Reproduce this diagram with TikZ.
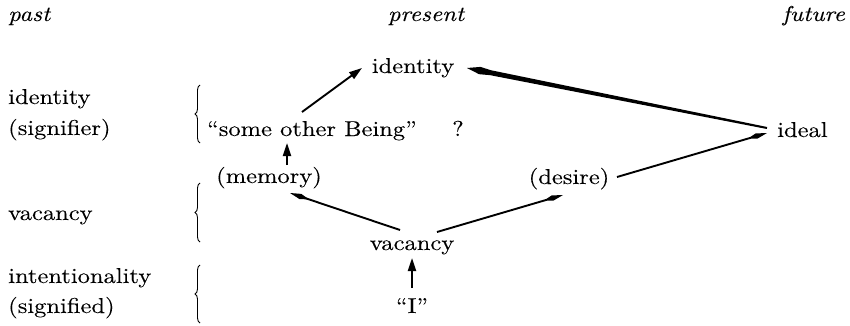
\documentclass[tikz,border=0pt]{standalone}
\usepackage{fontspec}
\setmainfont{lmroman10-regular}[Extension=.otf, ItalicFont=lmroman10-italic, BoldFont=lmroman10-bold, FakeStretch=1.14, FakeBold=0.15]
\usetikzlibrary{arrows.meta,calc,decorations.pathreplacing}
\begin{document}
\begin{tikzpicture}[x=1pt,y=-1pt,
  lbl/.style={inner sep=0pt, font=\fontsize{21.5}{26}\selectfont},
  hdr/.style={inner sep=0pt, font=\fontsize{21.5}{26}\selectfont\itshape},
  ln/.style={line width=1.9pt},
  arr/.style={ln, -{Triangle[length=13pt,width=8pt]}},
  spear/.style={ln, -{Kite[length=20pt,width=5.5pt,inset=9pt]}},
  brc/.style={decorate, decoration={brace, amplitude=5pt}, line width=0.9pt}]
\useasboundingbox (0,0) rectangle (850,326);
% headers
\node[hdr, anchor=base west] (past) at (8,21) {past};
\node[hdr, anchor=base] (present) at (426,21) {present};
\node[hdr, anchor=base east] (future) at (845,21) {future};
% left labels
\node[lbl, anchor=base west] (lid) at (8,104) {identity};
\node[lbl, anchor=base west] (lsig) at (8,135) {(signifier)};
\node[lbl, anchor=base west] (lvac) at (8,220) {vacancy};
\node[lbl, anchor=base west] (lint) at (8,283) {intentionality};
\node[lbl, anchor=base west] (lsd) at (8,313) {(signified)};
% braces
\draw[brc] (200,143) -- (200,85);
\draw[brc] (200,242) -- (200,183);
\draw[brc] (200,323) -- (200,265);
% diagram nodes
\node[lbl, anchor=base west] (being) at (207,136) {``some other Being''};
\node[lbl, anchor=base] (q) at (458,136) {?};
\node[lbl, anchor=base] (idt) at (413,73) {identity};
\node[lbl, anchor=base west] (ideal) at (777,137) {ideal};
\node[lbl, anchor=base] (des) at (569,184) {(desire)};
\node[lbl, anchor=base] (mem) at (269,183) {(memory)};
\node[lbl, anchor=base] (vac) at (412,250) {vacancy};
\node[lbl, anchor=base] (ich) at (412,313) {``I''};
% connectors
\draw[arr] ([shift={(18,-18)}]mem.base) -- ([shift={(80,7)}]being.base west);
\draw[arr] ([shift={(95,-24)}]being.base west) -- ([shift={(-51,-5)}]idt.base);
\draw[spear] ([shift={(-12,-20)}]vac.base) -- ([shift={(21,10)}]mem.base);
\draw[spear] ([shift={(25,-18)}]vac.base) -- ([shift={(-6,11)}]des.base);
\draw[spear] ([shift={(48,-7)}]des.base) -- ([shift={(-10,-4)}]ideal.base west);
\draw[arr] ([shift={(0,-25)}]ich.base) -- ([shift={(0,8)}]vac.base);
% tapered connector ideal -> identity
\coordinate (ta) at ([shift={(-10,-9)}]ideal.base west);
\coordinate (tb) at ([shift={(54,-5)}]idt.base);
\coordinate (tc) at ($(tb)!24pt!(ta)$);
\coordinate (th) at ($(tb)!13pt!(ta)$);
\fill ($(ta)!1pt!90:(tb)$) -- ($(tc)!2.5pt!-90:(ta)$) -- ($(th)!3.7pt!-90:(ta)$)
  -- (tb) -- ($(th)!3.7pt!90:(ta)$) -- ($(tc)!2.5pt!90:(ta)$) -- ($(ta)!1pt!-90:(tb)$) -- cycle;
\end{tikzpicture}
\end{document}
